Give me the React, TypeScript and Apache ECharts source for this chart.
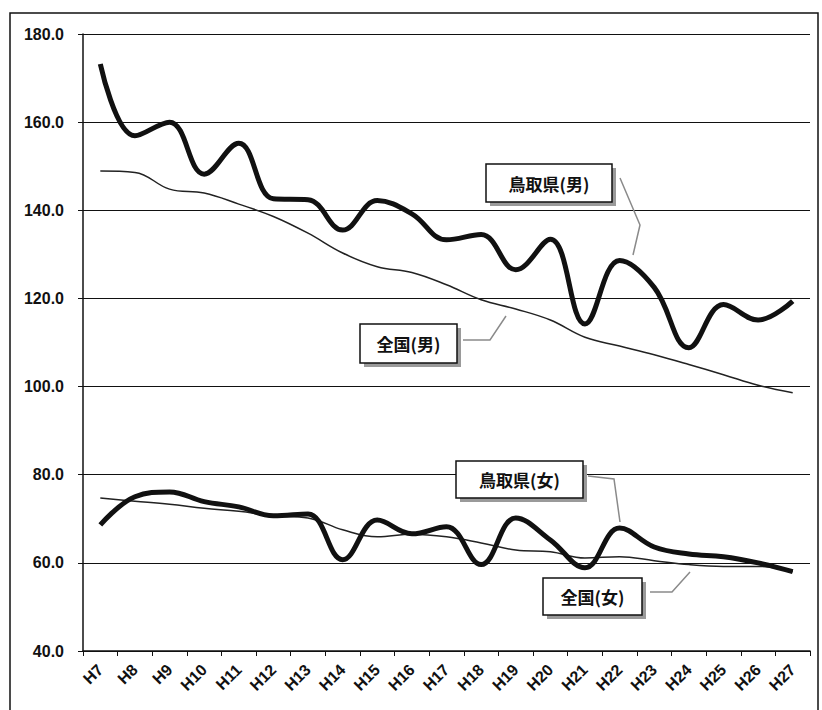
import React, { useEffect, useRef } from "react";
import * as echarts from "echarts";

const categories = ["H7","H8","H9","H10","H11","H12","H13","H14","H15","H16","H17","H18","H19","H20","H21","H22","H23","H24","H25","H26","H27"];
const tottoriMale = [173.2,156.9,160.0,148.2,155.2,142.6,142.4,135.5,142.2,139.2,133.3,134.5,126.5,133.4,114.2,128.6,122.5,108.8,118.6,115.1,119.4];
const nationalMale = [148.9,148.6,144.8,143.9,141.4,138.6,134.8,130.3,127.2,125.9,123.1,119.7,117.6,115.1,111.2,109.2,107.2,105.0,102.7,100.3,98.6];
const tottoriFemale = [68.6,75.0,76.1,73.9,72.7,70.7,71.1,60.7,69.7,66.6,68.2,59.6,70.2,65.2,58.9,67.9,63.6,62.0,61.4,60.0,58.0];
const nationalFemale = [74.7,74.0,73.3,72.4,71.7,70.7,70.2,67.5,65.9,66.5,65.9,64.5,62.9,62.5,61.1,61.4,60.5,59.6,59.2,59.2,58.0];
const seriesNames = ["鳥取県(男)", "全国(男)", "鳥取県(女)", "全国(女)"];

const CJK = "'Noto Sans CJK JP', sans-serif";
const LATIN = "'Liberation Sans', 'Open Sans', sans-serif";

function callout(label: string, x: number, y: number, w: number, h: number, leader: number[][]) {
  return [
    { type: "polyline", shape: { points: leader }, style: { stroke: "#8a8a8a", lineWidth: 1.5, fill: "none" }, z: 10 },
    { type: "rect", shape: { x: x + 4, y: y + 4, width: w, height: h }, style: { fill: "#9a9a9a" }, z: 10 },
    { type: "rect", shape: { x, y, width: w, height: h }, style: { fill: "#ffffff", stroke: "#111", lineWidth: 1.5 }, z: 11 },
    {
      type: "text", x: x + w / 2, y: y + h / 2, z: 12,
      style: { text: label, fill: "#111", font: `bold 17px ${CJK}`, align: "center", verticalAlign: "middle" },
    },
  ];
}

export default function App() {
  const ref = useRef<HTMLDivElement>(null);
  useEffect(() => {
    document.body.style.margin = "0";
    const chart = echarts.init(ref.current!, null, { renderer: "svg" });
    const thick = { color: "#111", width: 5 };
    const thin = { color: "#222", width: 1.5 };
    chart.setOption({
      animation: false,
      backgroundColor: "#ffffff",
      grid: { left: 83, right: 12, top: 34, bottom: 59 },
      xAxis: {
        type: "category",
        data: categories,
        boundaryGap: true,
        axisLine: { lineStyle: { color: "#111", width: 1.5 } },
        axisTick: { show: true, length: 5, lineStyle: { color: "#111" } },
        axisLabel: { rotate: 45, margin: 16, color: "#111", fontWeight: "bold", fontSize: 16, fontFamily: LATIN, interval: 0 },
        splitLine: { show: false },
      },
      yAxis: {
        type: "value",
        min: 40,
        max: 180,
        interval: 20,
        axisLine: { show: true, lineStyle: { color: "#111", width: 1.5 } },
        axisTick: { show: true, length: 5, lineStyle: { color: "#111" } },
        axisLabel: { margin: 19, color: "#111", fontWeight: "bold", fontSize: 16, fontFamily: LATIN, formatter: (v: number) => v.toFixed(1) },
        splitLine: { show: true, lineStyle: { color: "#111", width: 1.2 } },
      },
      series: [
        { name: seriesNames[0], type: "line", data: tottoriMale, smooth: 0.4, showSymbol: false, symbol: "none", lineStyle: thick, z: 3 },
        { name: seriesNames[1], type: "line", data: nationalMale, smooth: 0.4, showSymbol: false, symbol: "none", lineStyle: thin, z: 2 },
        { name: seriesNames[2], type: "line", data: tottoriFemale, smooth: 0.4, showSymbol: false, symbol: "none", lineStyle: thick, z: 3 },
        { name: seriesNames[3], type: "line", data: nationalFemale, smooth: 0.4, showSymbol: false, symbol: "none", lineStyle: thin, z: 2 },
      ],
      graphic: [
        { type: "rect", shape: { x: 10, y: 13, width: 808, height: 720 }, style: { fill: "none", stroke: "#111", lineWidth: 1.5 }, z: 0, silent: true },
        ...callout(seriesNames[0], 486, 164, 126, 38, [[620, 178], [640, 225], [633, 255]]),
        ...callout(seriesNames[1], 360, 324, 97, 39, [[463, 340], [490, 340], [506, 316]]),
        ...callout(seriesNames[2], 456, 461, 127, 37, [[588, 476], [614, 479], [620, 522]]),
        ...callout(seriesNames[3], 543, 578, 99, 37, [[650, 592], [672, 592], [690, 572]]),
      ],
    });
    return () => chart.dispose();
  }, []);
  return <div ref={ref} style={{ width: 822, height: 710 }} />;
}
